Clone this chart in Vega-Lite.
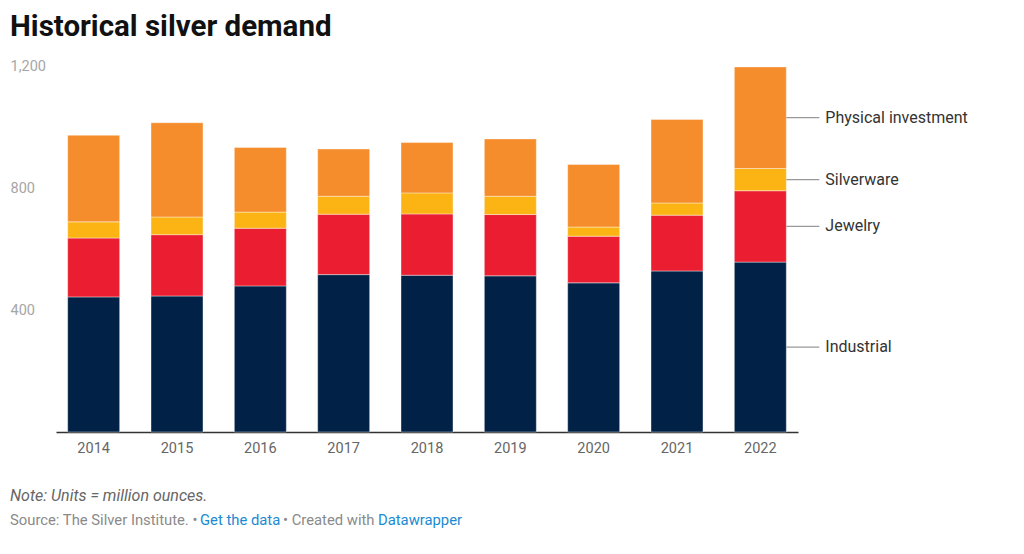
{
  "$schema": "https://vega.github.io/schema/vega-lite/v6.json",
  "width": 742,
  "height": 366,
  "autosize": {"type": "none"},
  "padding": {"left": 56, "top": 66, "right": 226, "bottom": 122},
  "background": "white",
  "config": {
    "font": "Roboto",
    "view": {"stroke": null}
  },
  "title": {
    "text": "Historical silver demand",
    "anchor": "start",
    "frame": "group",
    "dx": -46,
    "dy": 4,
    "offset": 20,
    "fontSize": 29.5,
    "fontWeight": 700,
    "color": "#111111",
    "font": "Roboto"
  },
  "data": {
    "values": [
      {"year": "2014", "category": "Industrial", "order": 1, "value": 443},
      {"year": "2014", "category": "Jewelry", "order": 2, "value": 193},
      {"year": "2014", "category": "Silverware", "order": 3, "value": 53},
      {"year": "2014", "category": "Physical investment", "order": 4, "value": 284},
      {"year": "2015", "category": "Industrial", "order": 1, "value": 446},
      {"year": "2015", "category": "Jewelry", "order": 2, "value": 201},
      {"year": "2015", "category": "Silverware", "order": 3, "value": 58},
      {"year": "2015", "category": "Physical investment", "order": 4, "value": 309},
      {"year": "2016", "category": "Industrial", "order": 1, "value": 479},
      {"year": "2016", "category": "Jewelry", "order": 2, "value": 189},
      {"year": "2016", "category": "Silverware", "order": 3, "value": 53},
      {"year": "2016", "category": "Physical investment", "order": 4, "value": 212},
      {"year": "2017", "category": "Industrial", "order": 1, "value": 516},
      {"year": "2017", "category": "Jewelry", "order": 2, "value": 198},
      {"year": "2017", "category": "Silverware", "order": 3, "value": 59},
      {"year": "2017", "category": "Physical investment", "order": 4, "value": 155},
      {"year": "2018", "category": "Industrial", "order": 1, "value": 514},
      {"year": "2018", "category": "Jewelry", "order": 2, "value": 201},
      {"year": "2018", "category": "Silverware", "order": 3, "value": 69},
      {"year": "2018", "category": "Physical investment", "order": 4, "value": 165},
      {"year": "2019", "category": "Industrial", "order": 1, "value": 512},
      {"year": "2019", "category": "Jewelry", "order": 2, "value": 201},
      {"year": "2019", "category": "Silverware", "order": 3, "value": 60},
      {"year": "2019", "category": "Physical investment", "order": 4, "value": 188},
      {"year": "2020", "category": "Industrial", "order": 1, "value": 489},
      {"year": "2020", "category": "Jewelry", "order": 2, "value": 153},
      {"year": "2020", "category": "Silverware", "order": 3, "value": 30},
      {"year": "2020", "category": "Physical investment", "order": 4, "value": 205},
      {"year": "2021", "category": "Industrial", "order": 1, "value": 528},
      {"year": "2021", "category": "Jewelry", "order": 2, "value": 183},
      {"year": "2021", "category": "Silverware", "order": 3, "value": 40},
      {"year": "2021", "category": "Physical investment", "order": 4, "value": 274},
      {"year": "2022", "category": "Industrial", "order": 1, "value": 557},
      {"year": "2022", "category": "Jewelry", "order": 2, "value": 234},
      {"year": "2022", "category": "Silverware", "order": 3, "value": 73},
      {"year": "2022", "category": "Physical investment", "order": 4, "value": 333}
    ]
  },
  "layer": [
    {
      "mark": {"type": "bar", "stroke": "white", "strokeWidth": 0.4},
      "encoding": {
        "x": {
          "field": "year",
          "type": "ordinal",
          "scale": {"paddingInner": 0.376, "paddingOuter": 0.14},
          "axis": {
            "title": null,
            "labelAngle": 0,
            "labelColor": "#666666",
            "labelFontSize": 14.5,
            "labelPadding": 9,
            "ticks": false,
            "domainColor": "#333333",
            "domainWidth": 1.5,
            "labelFont": "Roboto"
          }
        },
        "y": {
          "field": "value",
          "type": "quantitative",
          "aggregate": "sum",
          "stack": "zero",
          "scale": {"domain": [0, 1200], "nice": false},
          "axis": {
            "title": null,
            "values": [400, 800, 1200],
            "format": ",.0f",
            "grid": false,
            "domain": false,
            "ticks": false,
            "labelAlign": "left",
            "labelBaseline": "middle",
            "labelPadding": 46,
            "labelColor": "#a6a6a6",
            "labelFontSize": 14.5,
            "labelFont": "Roboto"
          }
        },
        "color": {
          "field": "category",
          "type": "nominal",
          "scale": {
            "domain": ["Industrial", "Jewelry", "Silverware", "Physical investment"],
            "range": ["#012246", "#ea1e30", "#fcb415", "#f68d2c"]
          },
          "legend": null
        },
        "order": {"field": "order", "type": "quantitative", "sort": "ascending"}
      }
    },
    {
      "transform": [
        {"filter": "datum.year == '2022'"},
        {"stack": "value", "groupby": ["year"], "sort": [{"field": "order", "order": "ascending"}], "as": ["v0", "v1"]},
        {"calculate": "(datum.v0 + datum.v1) / 2", "as": "mid"}
      ],
      "layer": [
        {
          "mark": {"type": "rule", "color": "#999999", "strokeWidth": 1.3, "x2Offset": 33},
          "encoding": {
            "x": {"field": "year", "type": "ordinal", "bandPosition": 1},
            "x2": {"field": "year", "bandPosition": 1},
            "y": {"field": "mid", "type": "quantitative"}
          }
        },
        {
          "mark": {"type": "text", "align": "left", "baseline": "middle", "dx": 39, "fontSize": 16, "color": "#333333", "font": "Roboto"},
          "encoding": {
            "x": {"field": "year", "type": "ordinal", "bandPosition": 1},
            "y": {"field": "mid", "type": "quantitative"},
            "text": {"field": "category"}
          }
        }
      ]
    },
    {
      "data": {"values": [{"text": "Note: Units = million ounces."}]},
      "mark": {"type": "text", "align": "left", "baseline": "middle", "fontSize": 16, "fontStyle": "italic", "color": "#666666", "font": "Roboto"},
      "encoding": {
        "x": {"value": -46},
        "y": {"value": 430},
        "text": {"field": "text"}
      }
    },
    {
      "data": {"values": [{"text": "Source: The Silver Institute. •"}]},
      "mark": {"type": "text", "align": "left", "baseline": "middle", "fontSize": 14.8, "color": "#8a8a8a", "font": "Roboto"},
      "encoding": {
        "x": {"value": -46},
        "y": {"value": 455},
        "text": {"field": "text"}
      }
    },
    {
      "data": {"values": [{"text": "Get the data"}]},
      "mark": {"type": "text", "align": "left", "baseline": "middle", "fontSize": 14.8, "color": "#1b8ad3", "font": "Roboto"},
      "encoding": {
        "x": {"value": 144},
        "y": {"value": 455},
        "text": {"field": "text"}
      }
    },
    {
      "data": {"values": [{"text": "• Created with"}]},
      "mark": {"type": "text", "align": "left", "baseline": "middle", "fontSize": 14.8, "color": "#8a8a8a", "font": "Roboto"},
      "encoding": {
        "x": {"value": 227},
        "y": {"value": 455},
        "text": {"field": "text"}
      }
    },
    {
      "data": {"values": [{"text": "Datawrapper"}]},
      "mark": {"type": "text", "align": "left", "baseline": "middle", "fontSize": 14.8, "color": "#1b8ad3", "font": "Roboto"},
      "encoding": {
        "x": {"value": 322},
        "y": {"value": 455},
        "text": {"field": "text"}
      }
    }
  ]
}
